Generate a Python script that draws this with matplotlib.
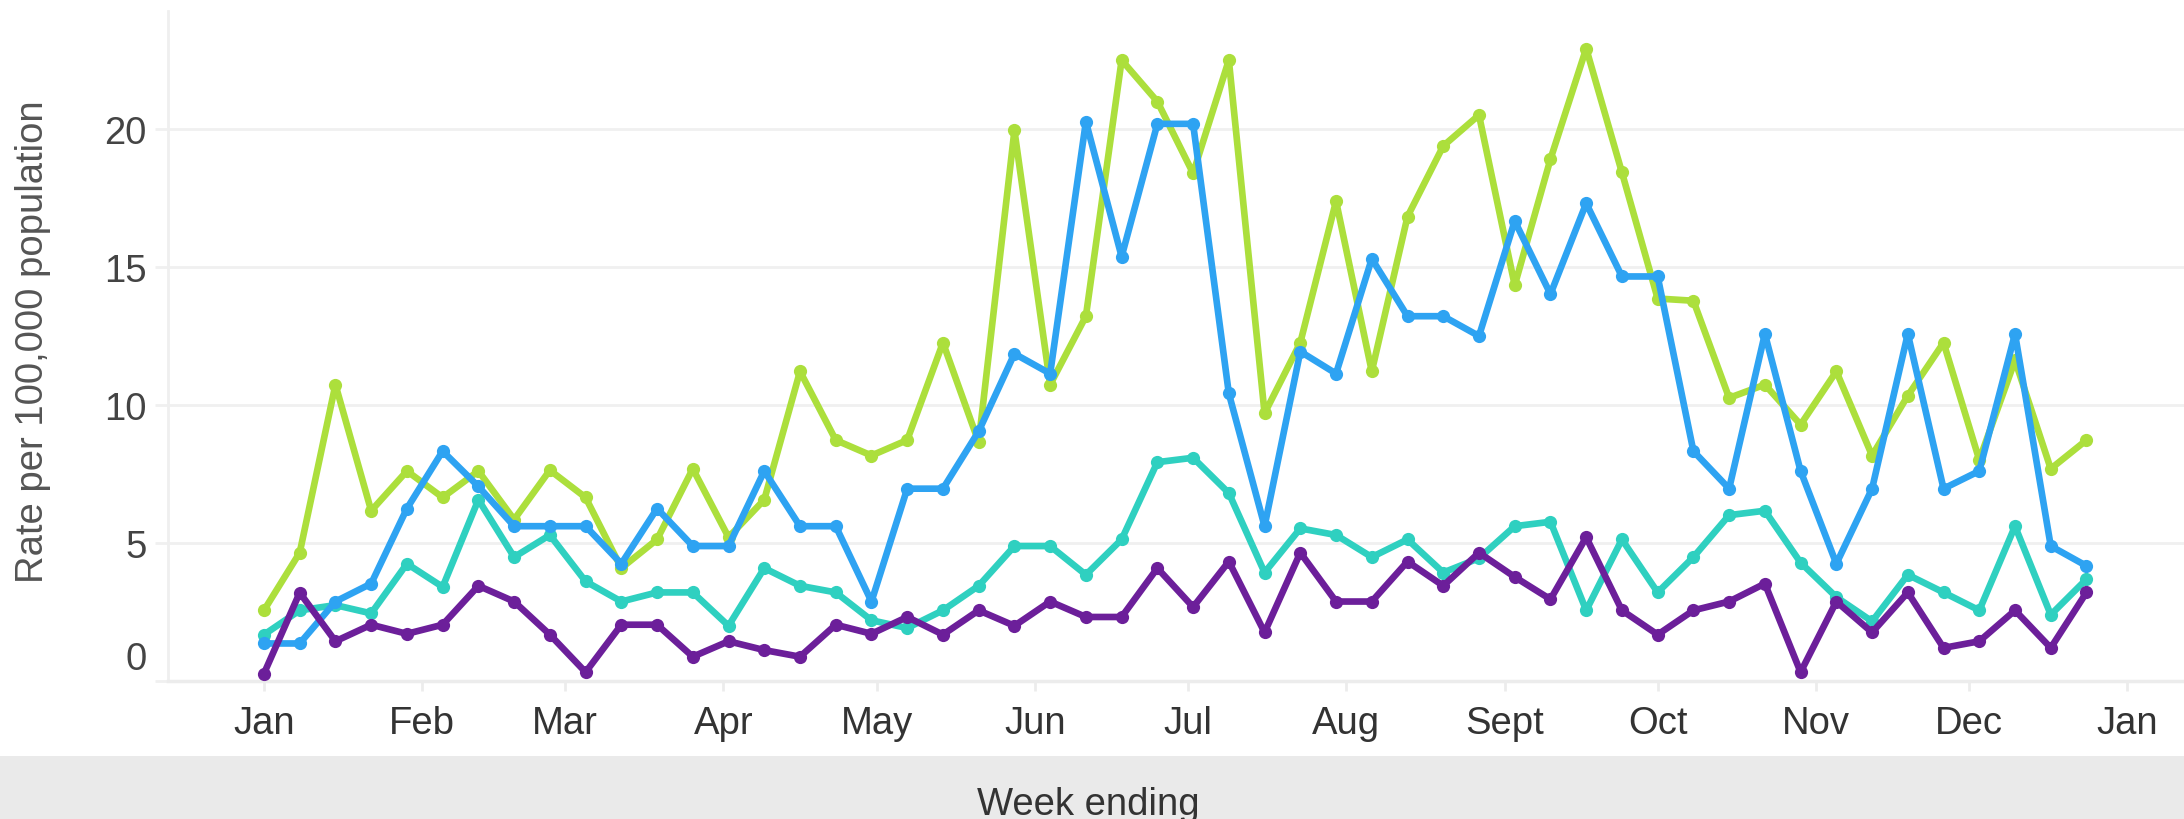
import matplotlib
matplotlib.use("Agg")
import matplotlib.pyplot as plt
import matplotlib.dates as mdates
import matplotlib.transforms as mtransforms
from matplotlib.patches import Rectangle
import numpy as np
import datetime as dt

plt.rcParams['font.family'] = ['Liberation Sans', 'DejaVu Sans']

# ---- data ----
start_week = dt.date(2022, 1, 1)
n_weeks = 52
week_ending = [start_week + dt.timedelta(days=7 * i) for i in range(n_weeks)]

green = [2.56, 4.65, 10.74, 6.17, 7.61, 6.65, 7.61, 5.85, 7.64, 6.65,
         4.09, 5.13, 7.69, 5.21, 6.57, 11.22, 8.73, 8.17, 8.73, 12.26,
         8.65, 19.95, 10.74, 13.22, 22.5, 21.0, 18.4, 22.5, 9.7, 12.26,
         17.39, 11.22, 16.83, 19.39, 20.51, 14.34, 18.91, 22.92, 18.43, 13.86,
         13.78, 10.26, 10.74, 9.29, 11.22, 8.17, 10.34, 12.26, 8.01, 11.62,
         7.69, 8.73]
blue = [1.36, 1.36, 2.88, 3.53, 6.25, 8.33, 7.05, 5.61, 5.61, 5.61,
        4.25, 6.25, 4.89, 4.89, 7.61, 5.61, 5.61, 2.88, 6.97, 6.97,
        9.05, 11.86, 11.14, 20.27, 15.38, 20.19, 20.19, 10.42, 5.61, 11.94,
        11.14, 15.3, 13.22, 13.22, 12.5, 16.67, 14.02, 17.31, 14.66, 14.66,
        8.33, 6.97, 12.58, 7.61, 4.25, 6.97, 12.58, 6.97, 7.61, 12.58,
        4.89, 4.17]
teal = [1.68, 2.56, 2.75, 2.45, 4.25, 3.41, 6.57, 4.49, 5.29, 3.61,
        2.88, 3.21, 3.21, 2.0, 4.09, 3.45, 3.21, 2.2, 1.92, 2.56,
        3.45, 4.89, 4.89, 3.85, 5.13, 7.93, 8.09, 6.81, 3.93, 5.53,
        5.29, 4.49, 5.13, 3.93, 4.45, 5.61, 5.77, 2.56, 5.13, 3.21,
        4.49, 6.01, 6.17, 4.29, 3.04, 2.16, 3.85, 3.21, 2.56, 5.61,
        2.4, 3.69]
purple = [0.27, 3.2, 1.44, 2.04, 1.71, 2.04, 3.45, 2.88, 1.68, 0.32,
          2.04, 2.04, 0.88, 1.44, 1.12, 0.88, 2.04, 1.71, 2.32, 1.68,
          2.56, 2.0, 2.88, 2.32, 2.32, 4.09, 2.68, 4.33, 1.76, 4.65,
          2.88, 2.88, 4.33, 3.45, 4.65, 3.77, 2.96, 5.21, 2.56, 1.68,
          2.56, 2.88, 3.53, 0.32, 2.88, 1.76, 3.21, 1.2, 1.44, 2.56,
          1.2, 3.21]

month_ticks = [dt.date(2022, m, 1) for m in range(1, 13)] + [dt.date(2023, 1, 1)]
month_labels = ["Jan", "Feb", "Mar", "Apr", "May", "Jun", "Jul", "Aug",
                "Sept", "Oct", "Nov", "Dec", "Jan"]
y_ticks = [0, 5, 10, 15, 20]

series = [(green, "#acdf3c"), (teal, "#2fd0c0"), (blue, "#2ea3f2"), (purple, "#6c1f9a")]

# ---- figure ----
W, H = 2184, 820
fig = plt.figure(figsize=(W / 100, H / 100), dpi=100)
ax_left, ax_right, ax_top, ax_bottom = 168, 2184, 12, 682
ax = fig.add_axes([ax_left / W, 1 - ax_bottom / H,
                   (ax_right - ax_left) / W, (ax_bottom - ax_top) / H])

# bottom grey band
fig.patches.append(Rectangle((0, 0), 1, (H - 757) / H, transform=fig.transFigure,
                             facecolor="#eaeaea", edgecolor="none", zorder=0))

for vals, col in series:
    ax.plot(week_ending, vals, color=col, lw=4.8, marker="o", ms=9.5,
            markeredgewidth=0, solid_joinstyle="round", clip_on=False, zorder=3)

x0 = mdates.date2num(dt.date(2022, 1, 1))
ax.set_xlim(x0 - 18.8, x0 + 376.1)
ax.set_ylim(0, 24.28)

ax.set_xticks(month_ticks)
ax.set_xticklabels(month_labels)
ax.set_yticks(y_ticks)
ax.set_yticklabels([str(v) for v in y_ticks])

ax.grid(axis="y", color="#f0f0f0", lw=2.0)
ax.set_axisbelow(True)
for s in ["top", "right"]:
    ax.spines[s].set_visible(False)
ax.spines["left"].set_color("#efefef")
ax.spines["left"].set_linewidth(2.0)
ax.spines["bottom"].set_color("#ececec")
ax.spines["bottom"].set_linewidth(2.5)

ax.tick_params(axis="x", length=7.5, width=2, color="#ececec", pad=10,
               labelsize=27.5, labelcolor="#333333")
ax.tick_params(axis="y", length=9.5, width=2, color="#f0f0f0", pad=6,
               labelsize=27.5, labelcolor="#444444")

# zero label sits above the baseline in the reference
lbl0 = ax.get_yticklabels()[0]
lbl0.set_transform(lbl0.get_transform() +
                   mtransforms.ScaledTranslation(0, 26 / 100, fig.dpi_scale_trans))

fig.text(33 / W, 1 - 342 / H, "Rate per 100,000 population", rotation=90,
         ha="center", va="center", fontsize=27.5, color="#555555")
fig.text(1088 / W, 5 / H, "Week ending", ha="center", va="baseline",
         fontsize=27.5, color="#333333")

fig.savefig("out.png", dpi=100)
